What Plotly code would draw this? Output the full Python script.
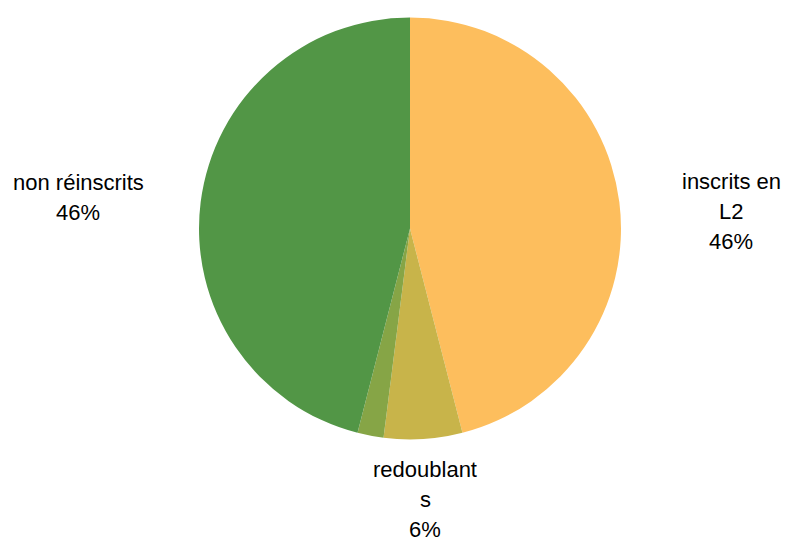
import plotly.graph_objects as go

categories = ["inscrits en L2", "redoublants", "autres", "non réinscrits"]
values = [46, 6, 2, 46]
colors = ["#FDBE5D", "#C8B44A", "#86A546", "#529646"]

label_lines = {
    "inscrits en L2": ["inscrits en", "L2", "46%"],
    "redoublants": ["redoublant", "s", "6%"],
    "non réinscrits": ["non réinscrits", "46%"],
}
label_pos = {
    "inscrits en L2": (731, 181),
    "redoublants": (425, 469),
    "non réinscrits": (78, 182),
}

# page body has an 8px margin; size figure to fit the window
OFF = 8
W, H = 789 - OFF, 541 - OFF
cx, cy, r = 410 - OFF, 228.5 - OFF, 211

fig = go.Figure(go.Pie(
    labels=categories,
    values=values,
    sort=False,
    direction="clockwise",
    rotation=0,
    marker=dict(colors=colors, line=dict(width=0)),
    textinfo="none",
    hoverinfo="label+percent",
    domain=dict(x=[(cx - r) / W, (cx + r) / W], y=[1 - (cy + r) / H, 1 - (cy - r) / H]),
    showlegend=False,
))

annotations = []
for key, lines in label_lines.items():
    x0, y0 = label_pos[key]
    for i, line in enumerate(lines):
        annotations.append(dict(
            x=(x0 - OFF) / W, y=1 - (y0 - OFF + 30 * i) / H, xref="paper", yref="paper",
            text=line, showarrow=False, xanchor="center", yanchor="middle",
            font=dict(family="Liberation Sans, Arial, sans-serif", size=22, color="#000000"),
        ))

fig.update_layout(
    width=W, height=H,
    margin=dict(l=0, r=0, t=0, b=0),
    paper_bgcolor="white", plot_bgcolor="white",
    annotations=annotations,
)

fig.write_html("out.html")
